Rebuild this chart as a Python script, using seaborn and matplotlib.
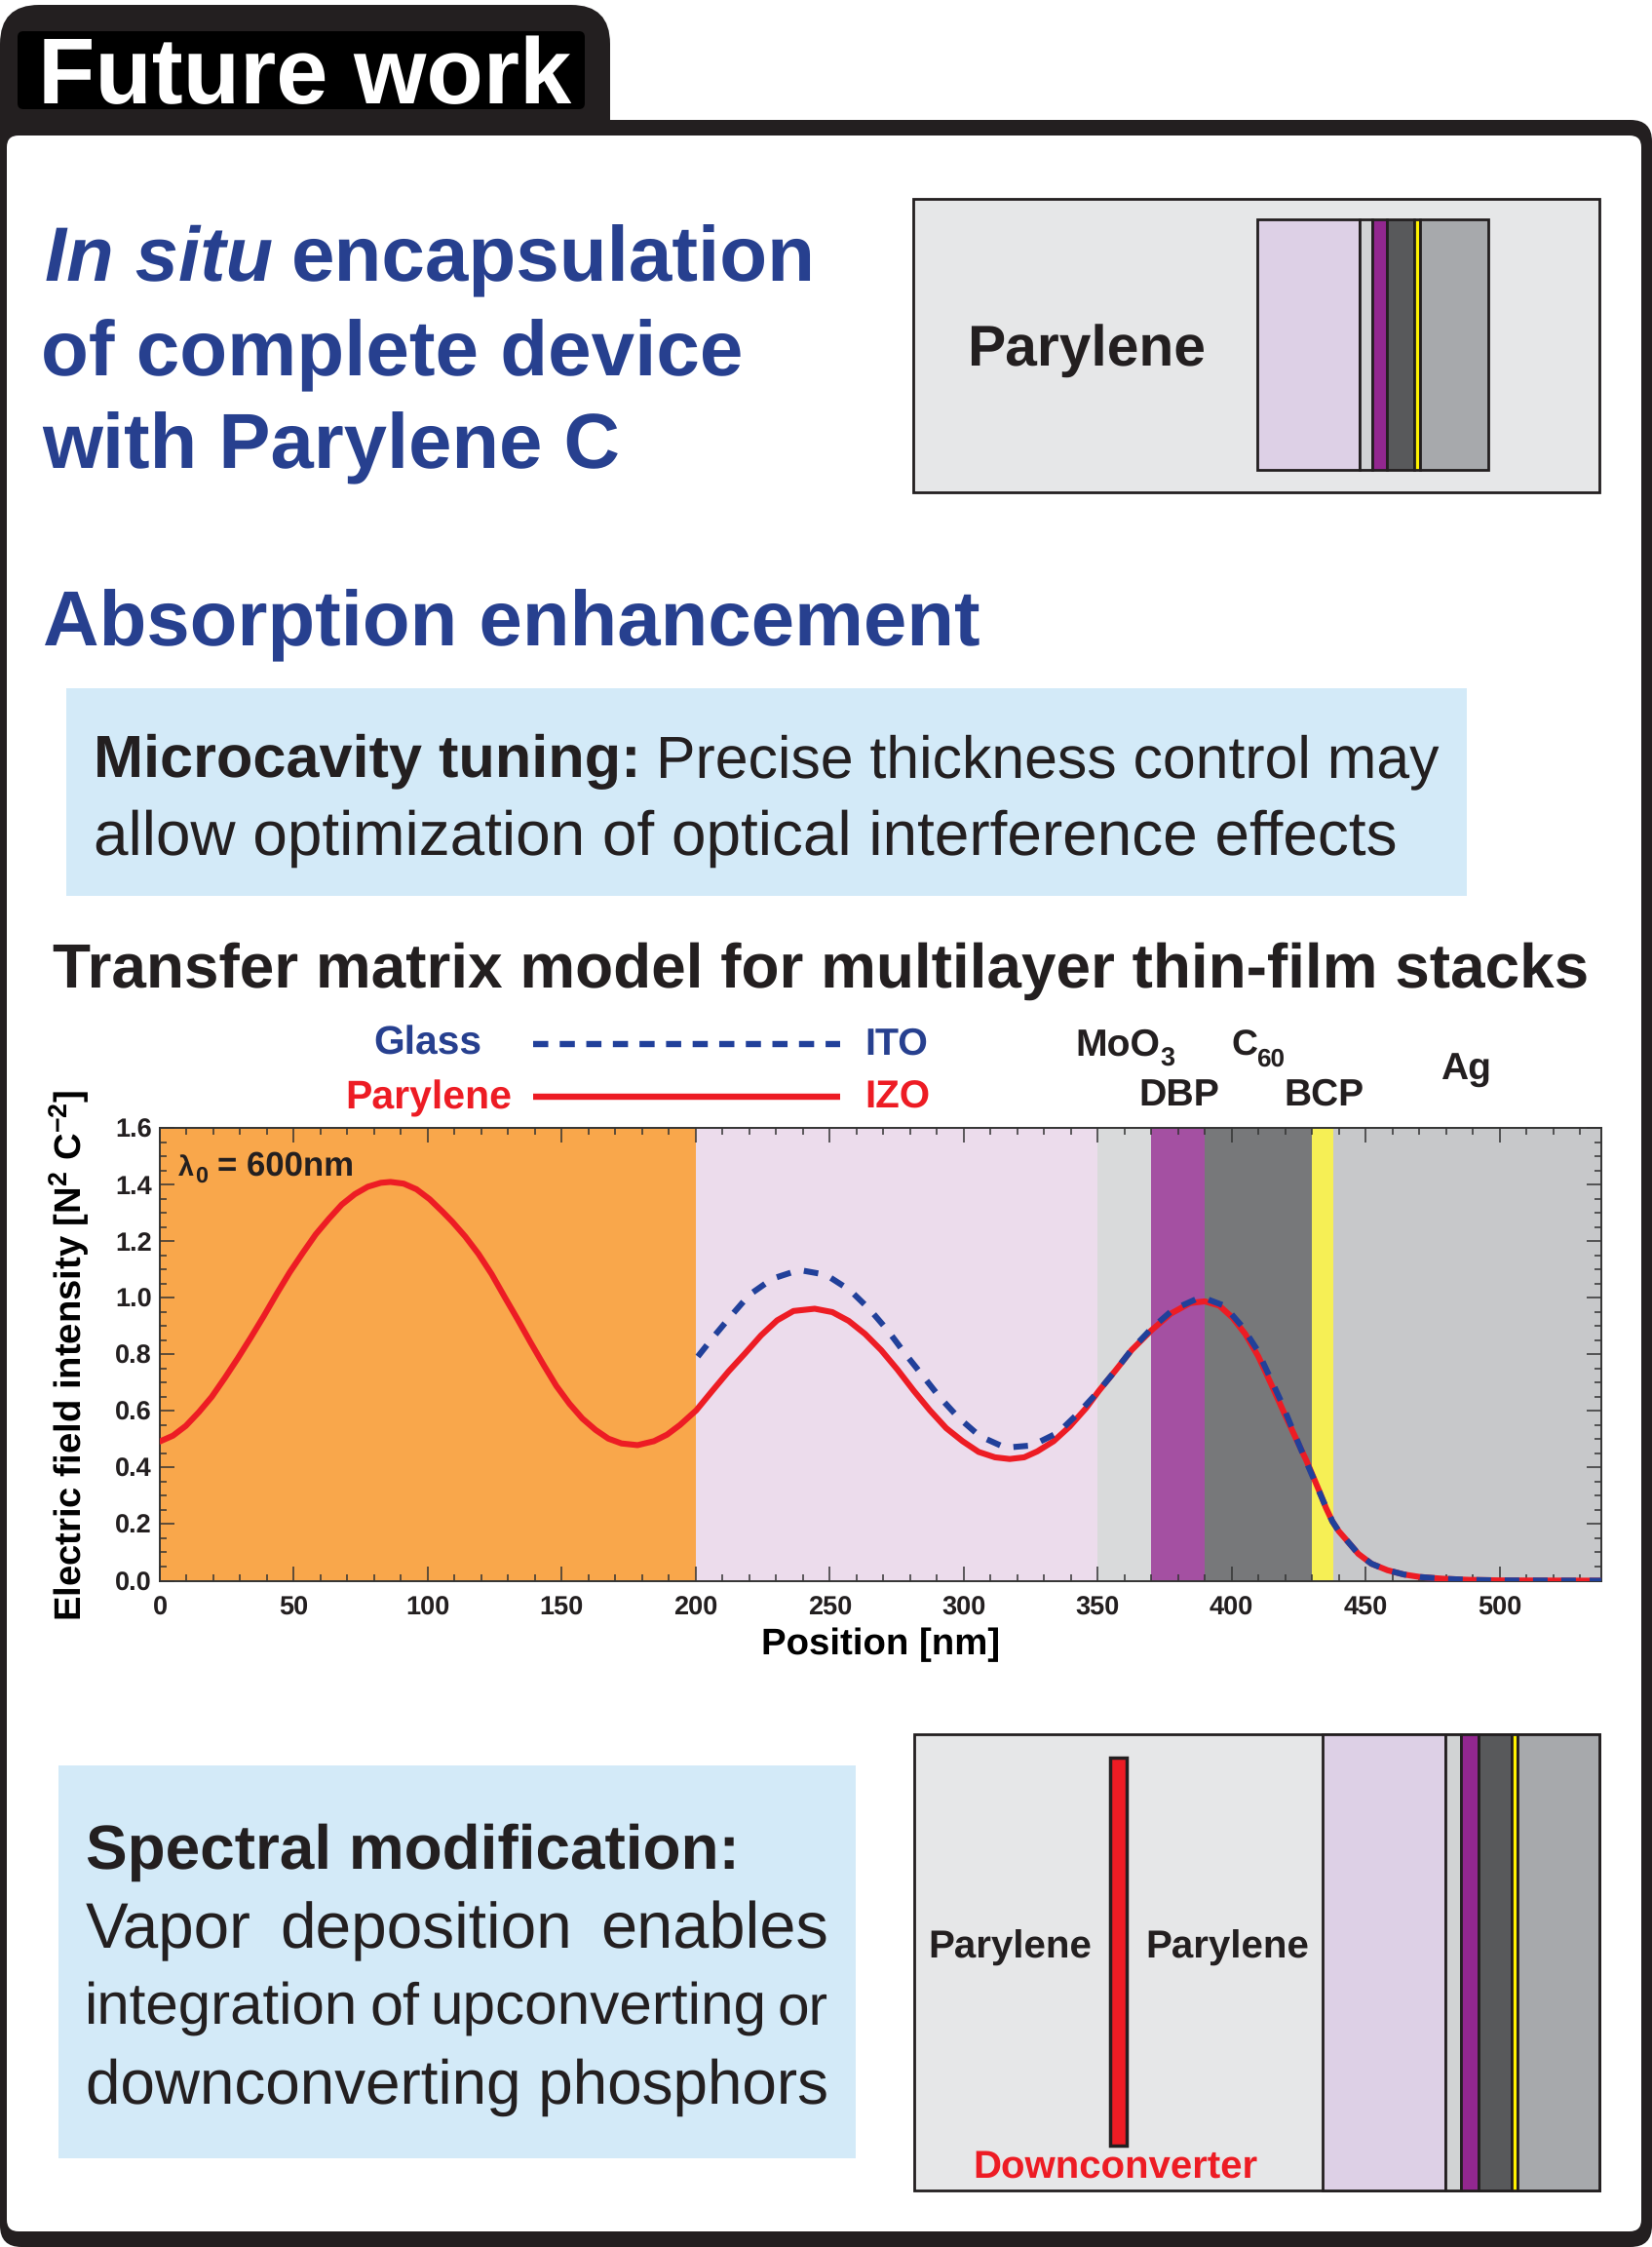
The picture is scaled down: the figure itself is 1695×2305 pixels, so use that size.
import matplotlib
matplotlib.use("Agg")
import matplotlib.pyplot as plt
from matplotlib.patches import FancyBboxPatch, Rectangle
from matplotlib.ticker import MultipleLocator
import seaborn as sns

sns.set_theme(style="ticks")
plt.rcParams["font.family"] = ["Liberation Sans", "DejaVu Sans"]
plt.rcParams["text.hinting"] = "none"
plt.rcParams["mathtext.fontset"] = "custom"
plt.rcParams["mathtext.bf"] = "Liberation Sans:bold"
plt.rcParams["mathtext.rm"] = "Liberation Sans:bold"
plt.rcParams["mathtext.default"] = "bf"

# -----------------------------
# DATA
# -----------------------------

parylene_x = [0, 4.9, 9.7, 14.6, 19.4, 24.3, 29.1, 34, 38.8, 43.7, 48.5, 53.4, 58.2, 63.1, 67.9, 72.8, 77.6, 82.5,
              86.1, 91, 95.8, 100.7, 105.5, 109.2, 114, 118.9, 123.8, 128.6, 133.5, 138.3, 143.2, 148, 152.9,
              157.7, 162.6, 167.4, 172.3, 178.3, 184.4, 189.3, 194.1, 200.2, 206.2, 212.3, 218.4, 224.4, 230.4,
              236.5, 244.4, 251, 257.1, 263.2, 269.2, 275.3, 281.4, 287.4, 293.5, 299.6, 305.6, 311.7, 317.2,
              322.6, 327.5, 333.6, 339.6, 345.7, 350.5, 356.6, 362.7, 370, 377.2, 384.5, 390, 395.4, 400.3, 405.1,
              410, 414.8, 419.7, 424.5, 427.9, 432.8, 435.2, 437.6, 440, 442.5, 447.3, 452.2, 458.2, 464.3, 470.4,
              478.8, 488.5, 500.7, 538]
parylene_y = [0.492, 0.5125, 0.547, 0.596, 0.650, 0.717, 0.786, 0.860, 0.935, 1.015, 1.09, 1.159, 1.224, 1.279,
              1.329, 1.366, 1.392, 1.406, 1.409, 1.403, 1.383, 1.348, 1.304, 1.268, 1.216, 1.155, 1.084, 1.004,
              0.924, 0.843, 0.763, 0.688, 0.625, 0.573, 0.533, 0.502, 0.485, 0.479, 0.493, 0.516, 0.550, 0.602,
              0.671, 0.74, 0.803, 0.867, 0.920, 0.953, 0.961, 0.949, 0.918, 0.872, 0.815, 0.746, 0.671, 0.602,
              0.539, 0.493, 0.455, 0.436, 0.430, 0.436, 0.457, 0.493, 0.545, 0.610, 0.671, 0.742, 0.815, 0.884,
              0.943, 0.981, 0.987, 0.972, 0.930, 0.872, 0.792, 0.694, 0.591, 0.493, 0.425, 0.315, 0.258, 0.21,
              0.175, 0.148, 0.095, 0.060, 0.037, 0.022, 0.013, 0.007, 0.003, 0.001, 0.0]

glass_x = [200.8, 206.5, 213.3, 220, 228.6, 238.6, 248.6, 257.5, 265, 271.7, 278.1, 284.6, 291.1, 298.1, 306, 315.6,
           325.6, 335.4, 342.7, 349.9, 356.6, 363, 370.2, 378.2, 387.3, 390, 397.2, 403.9, 409.6, 414, 418.5, 422.4,
           426.4, 430.6, 434.8, 437.6, 440, 442.5, 447.3, 452.2, 458.2, 464.3, 470.4, 478.8, 488.5, 500.7, 538]
glass_y = [0.792, 0.860, 0.937, 1.01, 1.067, 1.098, 1.081, 1.027, 0.958, 0.884, 0.803, 0.726, 0.648, 0.576, 0.511, 0.470,
           0.478, 0.524, 0.591, 0.665, 0.742, 0.820, 0.892, 0.958, 0.997, 0.998, 0.972, 0.899, 0.815, 0.725, 0.633,
           0.543, 0.453, 0.361, 0.269, 0.21, 0.175, 0.148, 0.095, 0.060, 0.037, 0.022, 0.013, 0.007, 0.003, 0.001, 0.0]

layer_edges = [0, 200, 350, 370, 390, 430, 438, 538]
layer_colors = ["#f9a74b", "#ecdcec", "#d9dadb", "#a450a2", "#77787a", "#f6ef55", "#c7c8ca"]

stack_colors = ["#ddd0e6", "#d1d3d4", "#92278f", "#58595b", "#fff200", "#a7a9ac"]

DARK = "#231f20"
BLUE = "#27408f"
LINE_BLUE = "#21409a"
RED = "#ed1c24"
PANEL = "#e6e7e8"
BOX = "#d3eaf8"

fig = plt.figure(figsize=(16.95, 23.05), dpi=100, facecolor="white")

# overlay in pixel coordinates for the slide parts
bg = fig.add_axes([0, 0, 1, 1])
top = fig.add_axes([0, 0, 1, 1], zorder=8)
for a in (bg, top):
    a.set_xlim(0, 1695)
    a.set_ylim(2305, 0)
    a.axis("off")


def rbox(x0, y0, x1, y1, r, color, z=1):
    bg.add_patch(FancyBboxPatch((x0 + r, y0 + r), x1 - x0 - 2 * r, y1 - y0 - 2 * r,
                                boxstyle="round,pad=%g,rounding_size=%g" % (r, r),
                                fc=color, ec="none", zorder=z))


def fit(x0, x1, y, s, color=DARK, weight="bold", style="normal", z=5, on=None):
    # text between x0 and x1 with its baseline on y
    t = (on or bg).text(x0, y, s, color=color, fontweight=weight, fontstyle=style, fontsize=100,
                        ha="left", va="baseline", zorder=z)
    w = t.get_window_extent(fig.canvas.get_renderer()).width
    t.set_fontsize(100 * (x1 - x0) / w)
    return t


def rect(x0, y0, x1, y1, color, lw=2.0, z=2):
    bg.add_patch(Rectangle((x0, y0), x1 - x0, y1 - y0, fc=color, ec=DARK, lw=lw, zorder=z))


def stack(edges, y0, y1):
    for i in range(len(stack_colors)):
        rect(edges[i], y0, edges[i + 1], y1, stack_colors[i], z=3)


# frame and tab
rbox(0, 123, 1695, 2305, 22, DARK, 1)
rbox(0, 5, 626, 200, 40, DARK, 1)
rbox(7, 139, 1684, 2289, 12, "white", 2)
rbox(18, 32, 600, 112, 6, "black", 3)
fit(39, 586, 106, "Future work", color="white")

# headings
fit(46, 280, 288.5, "In situ", color=BLUE, style="italic")
fit(299, 837, 288.5, "encapsulation", color=BLUE)
fit(42, 762, 385.5, "of complete device", color=BLUE)
fit(43, 636, 480, "with Parylene C", color=BLUE)
fit(44, 1005, 662, "Absorption enhancement", color=BLUE)

# top device panel
rect(937, 204, 1641, 505, PANEL)
fit(992, 1237, 375.5, "Parylene")
stack([1290, 1394.5, 1408, 1423, 1451, 1457, 1527], 225, 482)

# microcavity box
bg.add_patch(Rectangle((68, 706), 1437, 213, fc=BOX, ec="none", zorder=2))
fit(96, 658, 797, "Microcavity tuning:")
fit(673, 1477, 797, "Precise thickness control may", weight="normal")
fit(96, 1433, 877, "allow optimization of optical interference effects", weight="normal")

fit(54, 1631, 1013, "Transfer matrix model for multilayer thin-film stacks")

# legend row above the chart
fit(383, 494, 1082, "Glass", color=BLUE)
fit(354, 525, 1137, "Parylene", color=RED)
bg.plot([547, 862], [1070.5, 1070.5], color=LINE_BLUE, lw=4.6, linestyle=(0, (2.43, 1.84)), zorder=4)
bg.plot([547, 862], [1125, 1125], color=RED, lw=4.6, solid_capstyle="butt", zorder=4)
fit(887, 952, 1082, "ITO", color=BLUE)
fit(887, 954, 1137, "IZO", color=RED)

# layer names, subscripts set by hand so they drop as far as in the slide
fit(1103, 1190, 1083, "MoO")
fit(1190, 1205, 1094, "3")
fit(1263, 1290, 1083, "C")
fit(1289, 1318, 1094, "60")
fit(1168, 1251, 1134, "DBP")
fit(1317, 1399, 1134, "BCP")
fit(1478, 1530, 1108, "Ag")

# spectral box
bg.add_patch(Rectangle((60, 1811), 818, 403, fc=BOX, ec="none", zorder=2))
fit(88, 759, 1917, "Spectral modification:")
fit(88, 258, 1998, "Vapor", weight="normal")
fit(287, 587, 1998, "deposition", weight="normal")
fit(616, 850, 1998, "enables", weight="normal")
fit(87, 367, 2076, "integration", weight="normal")
fit(379, 430, 2076, "of", weight="normal")
fit(441, 786, 2076, "upconverting", weight="normal")
fit(798, 850, 2076, "or", weight="normal")
fit(88, 850, 2158, "downconverting phosphors", weight="normal")

# bottom device panel
rect(938, 1779, 1641, 2246.5, PANEL)
stack([1357, 1483, 1499, 1517, 1550.5, 1557, 1641], 1779, 2246.5)
rect(1139, 1802.5, 1156, 2201, RED, lw=2.5, z=4)
fit(952, 1120, 2008.5, "Parylene")
fit(1175, 1343, 2008.5, "Parylene")
fit(998, 1290, 2234, "Downconverter", color=RED)

# -----------------------------
# chart
# -----------------------------

L, R, T, B = 164, 1643, 1157, 1621.5
ax = fig.add_axes([L / 1695, (2305 - B) / 2305, (R - L) / 1695, (B - T) / 2305], zorder=6)

for i in range(len(layer_colors)):
    ax.axvspan(layer_edges[i], layer_edges[i + 1], color=layer_colors[i], lw=0, zorder=0)

sns.lineplot(x=parylene_x, y=parylene_y, color=RED, linewidth=4.4, estimator=None, ax=ax, zorder=3)
sns.lineplot(x=glass_x, y=glass_y, color=LINE_BLUE, linewidth=4.4, estimator=None,
             linestyle=(0, (2.45, 2.3)), ax=ax, zorder=4)

ax.set_xlim(0, 538)
ax.set_ylim(0, 1.6)
ax.xaxis.set_major_locator(MultipleLocator(50))
ax.xaxis.set_minor_locator(MultipleLocator(10))
ax.yaxis.set_major_locator(MultipleLocator(0.2))
ax.yaxis.set_minor_locator(MultipleLocator(0.05))
ax.tick_params(which="both", direction="in", top=True, right=True, color="#333333")
ax.tick_params(which="major", length=10.5, width=1.1, labelsize=19.5)
ax.tick_params(which="minor", length=5, width=1.1)
ax.tick_params(axis="x", which="major", pad=11)
ax.tick_params(axis="y", which="major", pad=6)
for lab in ax.get_xticklabels() + ax.get_yticklabels():
    lab.set_fontweight("bold")
    lab.set_color(DARK)
for sp in ax.spines.values():
    sp.set_color("#333333")
    sp.set_linewidth(1.4)

ax.set_xlabel("Position [nm]", fontsize=27.6, fontweight="bold", color="black", va="baseline")
ax.xaxis.set_label_coords(0.5, -0.1625)
ax.set_ylabel(r"Electric field intensity [N$\mathbf{^2}$ C$\mathbf{^{-2}}$]", fontsize=27.5, fontweight="bold",
              color="black", va="baseline", rotation_mode="anchor")
ax.yaxis.set_label_coords(-0.054, 0.497)

# wavelength note, sits over the chart
fit(183, 199, 1206, "λ", on=top)
fit(200, 213, 1213, "0", on=top)
fit(223, 363, 1206, "= 600nm", on=top)

fig.savefig("out.png", dpi=100)
